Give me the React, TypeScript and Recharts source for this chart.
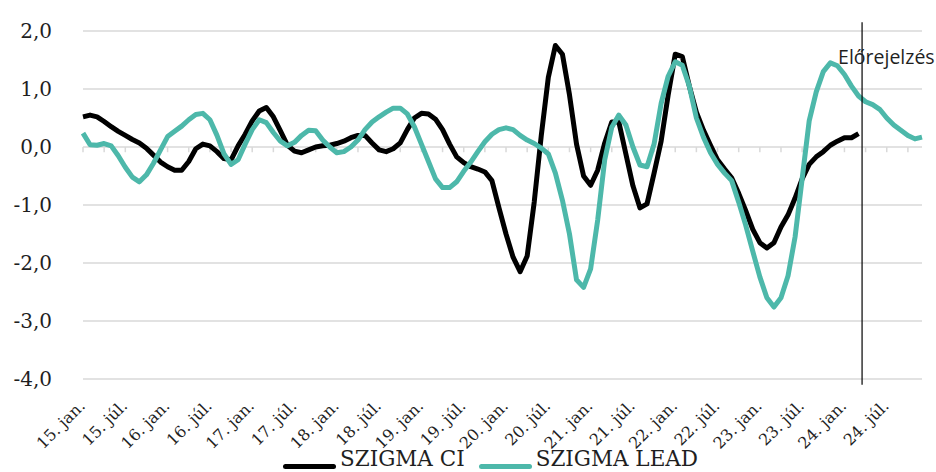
import React from "react";
import { LineChart, Line, XAxis, YAxis, CartesianGrid, ReferenceLine, Legend } from "recharts";

// monthly series, 2015 jan. – 2024 dec.
const years = ["15", "16", "17", "18", "19", "20", "21", "22", "23", "24"];
const monthNames = ["jan.", "febr.", "márc.", "ápr.", "máj.", "jún.", "júl.", "aug.", "szept.", "okt.", "nov.", "dec."];
const categories = years.flatMap((y) => monthNames.map((m) => `${y}. ${m}`));

const szigmaCI = [
  0.52, 0.55, 0.52, 0.44, 0.35, 0.27, 0.2, 0.13, 0.07, -0.02,
  -0.14, -0.26, -0.34, -0.4, -0.4, -0.25, -0.03, 0.05, 0.02, -0.08,
  -0.2, -0.22, 0.02, 0.22, 0.45, 0.62, 0.68, 0.52, 0.28, 0.03,
  -0.07, -0.1, -0.05, 0.0, 0.02, 0.03, 0.06, 0.1, 0.16, 0.2,
  0.2, 0.07, -0.05, -0.08, -0.03, 0.07, 0.3, 0.5, 0.58, 0.57,
  0.48, 0.3, 0.05, -0.17, -0.27, -0.34, -0.38, -0.43, -0.58, -1.05,
  -1.5, -1.9, -2.15, -1.88, -0.95, 0.2, 1.2, 1.75, 1.6, 0.9,
  0.05, -0.5, -0.66, -0.4, 0.07, 0.43, 0.43, -0.12, -0.67, -1.05,
  -0.98, -0.45, 0.1, 0.9, 1.6, 1.56, 1.05, 0.6, 0.29, 0.03,
  -0.22, -0.38, -0.53, -0.8, -1.1, -1.42, -1.65, -1.74, -1.65, -1.38,
  -1.17, -0.88, -0.55, -0.3, -0.17, -0.08, 0.03, 0.1, 0.16, 0.16,
  0.23,
];

const szigmaLead = [
  0.24, 0.04, 0.03, 0.06, 0.02, -0.15, -0.35, -0.52, -0.6, -0.48,
  -0.28, -0.05, 0.18, 0.27, 0.36, 0.47, 0.56, 0.58, 0.47, 0.2,
  -0.12, -0.3, -0.22, 0.05, 0.3, 0.47, 0.42, 0.25, 0.1, 0.02,
  0.08, 0.2, 0.29, 0.28, 0.12, 0.0, -0.1, -0.08, 0.0, 0.12,
  0.3, 0.43, 0.52, 0.6, 0.67, 0.67, 0.57, 0.35, 0.05, -0.25,
  -0.55, -0.7, -0.7, -0.6, -0.42, -0.26, -0.08, 0.09, 0.22, 0.3,
  0.33, 0.3, 0.2, 0.12, 0.06, -0.02, -0.12, -0.45, -0.92, -1.5,
  -2.29, -2.42, -2.1, -1.26, -0.22, 0.34, 0.55, 0.38, 0.0, -0.31,
  -0.34, 0.05, 0.75, 1.22, 1.47, 1.41, 1.05, 0.5, 0.17, -0.1,
  -0.3, -0.45, -0.58, -0.95, -1.35, -1.8, -2.24, -2.6, -2.76, -2.6,
  -2.22, -1.55, -0.55, 0.45, 0.95, 1.3, 1.45, 1.4, 1.25, 1.05,
  0.88, 0.78, 0.73, 0.65, 0.5, 0.38, 0.29, 0.2, 0.14, 0.17,
];

const yTicks = [-4, -3, -2, -1, 0, 1, 2];
const forecastFrom = 110.5; // between 24. márc. and 24. ápr.
const forecastLabel = "Előrejelzés";

const data = categories.map((month, i) => ({
  idx: i,
  month,
  ci: i < szigmaCI.length ? szigmaCI[i] : null,
  lead: szigmaLead[i],
}));

const labelTicks = data.filter((d) => d.idx % 6 === 0).map((d) => d.idx);
const markTicks = data.filter((d) => d.idx % 3 === 0).map((d) => d.idx);

const series = [
  { key: "ci", name: "SZIGMA CI", color: "#000000" },
  { key: "lead", name: "SZIGMA LEAD", color: "#4db8aa" },
];

const serif = "'DejaVu Serif', serif";
const textColor = "#1f1f1f";

function XTick({ x, y, payload }: any) {
  return (
    <text
      x={x + 3}
      y={y}
      transform={`rotate(-45, ${x + 3}, ${y})`}
      textAnchor="end"
      fontFamily={serif}
      fontSize={16}
      fill={textColor}
    >
      {categories[payload.value]}
    </text>
  );
}

function ForecastLabel({ viewBox }: any) {
  return (
    <text x={viewBox.x - 24} y={64} fontFamily="'Open Sans', sans-serif" fontSize={19.5} fill={textColor}>
      {forecastLabel}
    </text>
  );
}

function LegendContent() {
  return (
    <div style={{ display: "flex", alignItems: "flex-start", fontFamily: serif, fontSize: 21.5, lineHeight: "26px", color: textColor }}>
      {series.map((s) => (
        <div key={s.key} style={{ display: "flex", alignItems: "flex-start", marginRight: 14 }}>
          <span style={{ display: "inline-block", width: 53, height: 5, borderRadius: 3, background: s.color, marginTop: 18, marginRight: 4 }} />
          <span>{s.name}</span>
        </div>
      ))}
    </div>
  );
}

export default function App() {
  return (
    <div style={{ position: "absolute", left: 0, top: 0, width: 936, height: 472, overflow: "hidden", background: "#fff" }}>
      <LineChart width={936} height={472} data={data} margin={{ top: 31, right: 14, left: 0, bottom: 0 }}>
        <CartesianGrid vertical={false} stroke="#d9d9d9" strokeWidth={1.5} />
        <XAxis
          dataKey="idx"
          type="number"
          domain={[0, 119]}
          ticks={labelTicks}
          interval={0}
          tick={<XTick />}
          tickLine={false}
          axisLine={false}
          tickSize={0}
          tickMargin={28}
          height={67}
        />
        <YAxis
          domain={[-4, 2]}
          ticks={yTicks}
          interval={0}
          width={83}
          tickLine={false}
          axisLine={false}
          tickSize={0}
          tickMargin={31}
          tickFormatter={(v: number) => v.toFixed(1).replace(".", ",")}
          tick={{ fontFamily: serif, fontSize: 20, fill: textColor }}
        />
        {markTicks.map((t) => (
          <ReferenceLine key={t} segment={[{ x: t, y: 0 }, { x: t, y: -0.09 }]} stroke="#d9d9d9" strokeWidth={1.5} ifOverflow="visible" />
        ))}
        <Legend content={<LegendContent />} verticalAlign="bottom" wrapperStyle={{ left: 283, width: 520, bottom: 0 }} />
        <Line type="linear" dataKey="ci" name="SZIGMA CI" stroke="#000000" strokeWidth={5} dot={false} strokeLinejoin="round" isAnimationActive={false} />
        <Line type="linear" dataKey="lead" name="SZIGMA LEAD" stroke="#4db8aa" strokeWidth={5} dot={false} strokeLinejoin="round" isAnimationActive={false} />
        <ReferenceLine
          segment={[{ x: forecastFrom, y: 2.15 }, { x: forecastFrom, y: -4.1 }]}
          stroke="#000"
          strokeWidth={1.2}
          ifOverflow="visible"
          label={<ForecastLabel />}
        />
      </LineChart>
    </div>
  );
}
